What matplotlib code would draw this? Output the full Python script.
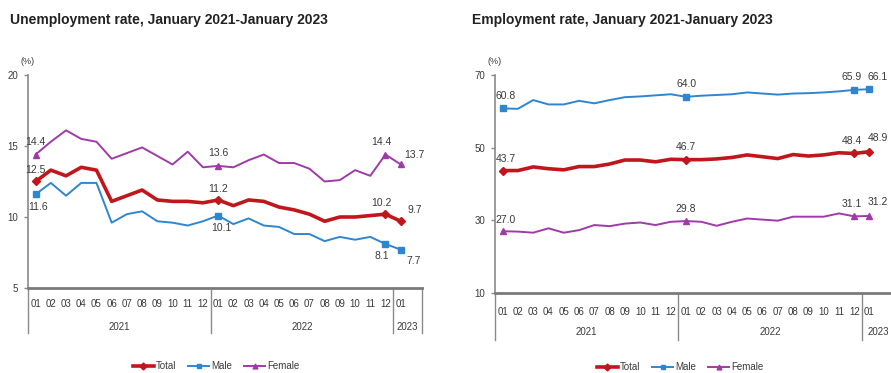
import matplotlib
matplotlib.use("Agg")
import matplotlib.pyplot as plt
from matplotlib.lines import Line2D

plt.rcParams['font.family'] = ['Liberation Sans', 'DejaVu Sans']

months = ["01", "02", "03", "04", "05", "06", "07", "08", "09", "10", "11", "12",
          "01", "02", "03", "04", "05", "06", "07", "08", "09", "10", "11", "12", "01"]
years = ["2021", "2022", "2023"]

# Unemployment rate (%)
unemp_total = [12.5, 13.3, 12.9, 13.5, 13.3, 11.1, 11.5, 11.9, 11.2, 11.1, 11.1, 11.0,
               11.2, 10.8, 11.2, 11.1, 10.7, 10.5, 10.2, 9.7, 10.0, 10.0, 10.1, 10.2, 9.7]
unemp_male = [11.6, 12.4, 11.5, 12.4, 12.4, 9.6, 10.2, 10.4, 9.7, 9.6, 9.4, 9.7,
              10.1, 9.5, 9.9, 9.4, 9.3, 8.8, 8.8, 8.3, 8.6, 8.4, 8.6, 8.1, 7.7]
unemp_female = [14.4, 15.3, 16.1, 15.5, 15.3, 14.1, 14.5, 14.9, 14.3, 13.7, 14.6, 13.5,
                13.6, 13.5, 14.0, 14.4, 13.8, 13.8, 13.4, 12.5, 12.6, 13.3, 12.9, 14.4, 13.7]

# Employment rate (%)
emp_total = [43.7, 43.7, 44.7, 44.2, 43.9, 44.8, 44.8, 45.5, 46.6, 46.6, 46.1, 46.8,
             46.7, 46.7, 46.9, 47.3, 48.0, 47.5, 47.0, 48.1, 47.7, 48.0, 48.6, 48.4, 48.9]
emp_male = [60.8, 60.7, 63.1, 61.9, 61.9, 62.9, 62.2, 63.1, 63.9, 64.1, 64.4, 64.7,
            64.0, 64.3, 64.5, 64.7, 65.2, 64.9, 64.6, 64.9, 65.0, 65.2, 65.5, 65.9, 66.1]
emp_female = [27.0, 26.9, 26.6, 27.8, 26.6, 27.3, 28.7, 28.4, 29.1, 29.4, 28.7, 29.6,
              29.8, 29.6, 28.5, 29.6, 30.5, 30.2, 29.9, 31.0, 31.0, 31.0, 31.9, 31.1, 31.2]

series_names = ["Total", "Male", "Female"]
colors = ["#C0161C", "#2E86D1", "#A03AA8"]
markers = ["D", "s", "^"]
widths = [2.6, 1.4, 1.4]
label_idx = [0, 12, 23, 24]

W, H = 891, 373
fig = plt.figure(figsize=(W / 100, H / 100), dpi=100)

TXT = "#3a3a3a"
AX = "#8a8a8a"
NARROW = ['Liberation Sans Narrow', 'Liberation Sans']


def panel(left_px, right_px, top_px, bottom_px, ylim, yticks, data, offsets, xmax,
          title, title_x, legend_cx, month_y, year_y, sep_bottom, legend_y, year_x):
    ax = fig.add_axes([left_px / W, 1 - bottom_px / H, (right_px - left_px) / W,
                       (bottom_px - top_px) / H])
    ax.set_xlim(-0.5, xmax)
    ax.set_ylim(*ylim)
    x = list(range(len(months)))
    for k, vals in enumerate(data):
        ax.plot(x, vals, color=colors[k], lw=widths[k], solid_joinstyle="round", zorder=3)
        ax.plot([x[i] for i in label_idx], [vals[i] for i in label_idx], ls="none",
                marker=markers[k], ms=4.5, color=colors[k], zorder=4)
        for j, i in enumerate(label_idx):
            dx, dy = offsets[k][j]
            ax.annotate(f"{vals[i]:.1f}", (x[i], vals[i]), xytext=(dx, dy),
                        textcoords="offset points", ha="center", va="center",
                        fontsize=7.5, color=TXT, annotation_clip=False, family=NARROW)
    for s in ["top", "right"]:
        ax.spines[s].set_visible(False)
    ax.spines["left"].set_color(AX)
    ax.spines["left"].set_linewidth(1.2)
    ax.spines["bottom"].set_color("#7a7a7a")
    ax.spines["bottom"].set_linewidth(2.0)
    ax.set_yticks(yticks)
    ax.set_yticklabels([str(t) for t in yticks])
    ax.tick_params(axis="y", length=3, width=1, color=AX, labelsize=7, labelcolor=TXT, pad=4)
    ax.set_xticks(x)
    ax.set_xticklabels(months)
    pad_pts = (month_y - bottom_px) * 0.72 - 3
    ax.tick_params(axis="x", length=0, labelsize=7, labelcolor=TXT, pad=pad_pts)
    for lab in ax.get_xticklabels():
        lab.set_family(NARROW)
    hpx = bottom_px - top_px
    depth = -(sep_bottom - bottom_px) / hpx
    for xs in [-0.5, 11.5, 23.5, xmax]:
        ax.plot([xs, xs], [0, depth], transform=ax.get_xaxis_transform(), color=AX,
                lw=1.0, clip_on=False)
    yy = -(year_y - bottom_px) / hpx
    for xc, yr in zip(year_x, years):
        ax.text(xc, yy, yr, transform=ax.get_xaxis_transform(), ha="center", va="center",
                fontsize=7, color=TXT, family=NARROW)
    ax.text(0.0, 1.0 + 13 / hpx, "(%)", transform=ax.transAxes, ha="center", va="center",
            fontsize=6.5, color=TXT)
    fig.text(title_x / W, 1 - 20 / H, title, ha="left", va="center", fontsize=10,
             fontweight="bold", color="#222222", family=NARROW)
    handles = [Line2D([], [], color=colors[k], lw=widths[k], marker=markers[k], ms=3.5)
               for k in range(3)]
    fig.legend(handles, series_names, loc="center", ncol=3,
               bbox_to_anchor=(legend_cx / W, 1 - legend_y / H), frameon=False,
               fontsize=7, handlelength=2.2, handletextpad=0.2, columnspacing=1.2,
               labelcolor=TXT)
    return ax


left_offsets = [
    [(0, 8), (0, 8), (-3, 8), (10, 8)],      # Total
    [(2, -9), (2, -9), (-3, -9), (9, -8)],   # Male
    [(0, 9), (0, 9), (-3, 9), (10, 7)],      # Female
]
panel(28, 422, 75, 288, (5, 20), [5, 10, 15, 20],
      [unemp_total, unemp_male, unemp_female], left_offsets, 25.4,
      "Unemployment rate, January 2021-January 2023", 10, 216, 303, 327, 333, 366,
      [5.5, 17.5, 24.45])

right_offsets = [
    [(2, 8), (0, 9), (-2, 9), (6, 10)],
    [(2, 9), (0, 9), (-2, 9), (6, 9)],
    [(2, 8), (0, 9), (-2, 9), (6, 10)],
]
panel(495, 897, 75, 293, (10, 70), [10, 30, 50, 70],
      [emp_total, emp_male, emp_female], right_offsets, 25.8,
      "Employment rate, January 2021-January 2023", 472, 680, 311, 332, 340, 367,
      [5.5, 17.5, 24.6])

fig.savefig("out.png", dpi=100)
